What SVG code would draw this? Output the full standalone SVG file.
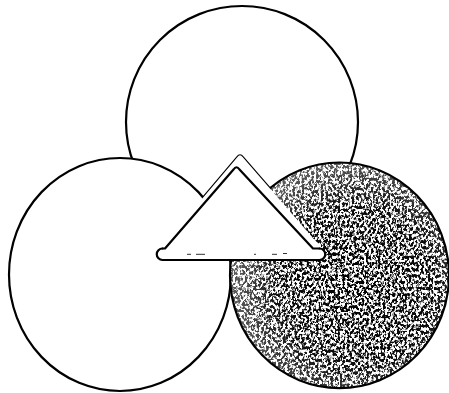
<svg xmlns="http://www.w3.org/2000/svg" width="449" height="393" viewBox="0 0 449 393">
  <style>
    .ring { fill: #ffffff; stroke: #000000; stroke-width: 2.2; }
    .edge { fill: none; stroke: #000000; stroke-width: 2.2; stroke-linejoin: round; stroke-linecap: round; }
    .halo { fill: #ffffff; stroke: none; }
    .speck { fill: none; stroke: #333333; stroke-width: 1; }
  </style>
  <defs>
    <radialGradient id="density" cx="0.58" cy="0.55" r="0.55">
      <stop offset="0" stop-color="#000" stop-opacity="1"/>
      <stop offset="0.65" stop-color="#000" stop-opacity="0.95"/>
      <stop offset="1" stop-color="#000" stop-opacity="0.65"/>
    </radialGradient>
    <filter id="grain" x="0" y="0" width="1" height="1" color-interpolation-filters="sRGB">
      <feTurbulence type="fractalNoise" baseFrequency="0.42 0.32" numOctaves="3" seed="11" result="noise"/>
      <feColorMatrix in="noise" type="matrix" values="0 0 0 0 0  0 0 0 0 0  0 0 0 0 0  7 0 0 0 -3.0" result="speck"/>
      <feComposite in="speck" in2="SourceGraphic" operator="in"/>
    </filter>
    <path id="outerShape" d="M 158.7,250 L 237.5,157 Q 240,153.5 242.6,157 L 323.4,250 A 5.75 5.75 0 0 1 319.5,260 L 162.5,260 A 5.75 5.75 0 0 1 158.7,250 Z"/>
  </defs>

  <rect width="449" height="393" fill="#ffffff"/>

  <g id="node-top">
    <circle class="ring" cx="242" cy="122" r="116"/>
  </g>

  <g id="triangle-outline">
    <use href="#outerShape" class="edge"/>
  </g>

  <g id="node-left">
    <ellipse class="ring" cx="120" cy="274.5" rx="111" ry="116.5"/>
  </g>

  <g id="node-right">
    <ellipse cx="339.5" cy="275.3" rx="109.5" ry="112.8" fill="#ffffff"/>
    <ellipse cx="339.5" cy="275.3" rx="109.5" ry="112.8" fill="url(#density)" filter="url(#grain)"/>
    <ellipse cx="339.5" cy="275.3" rx="109.5" ry="112.8" fill="none" stroke="#000" stroke-width="2.2"/>
  </g>

  <g id="node-triangle">
    <use href="#outerShape" class="halo"/>
    <path class="edge" d="M 162.5,248.5 L 165,248.5 L 233.5,169.5 Q 236.5,165 239.5,169.5 L 313,248.5 L 319.5,248.5"/>
    <path class="edge" d="M 162.5,248.5 A 5.75 5.75 0 0 0 162.5,260 L 319.5,260 A 5.75 5.75 0 0 0 319.5,248.5"/>
    <path class="speck" d="M 187,254.3 H 191 M 196,254.3 H 205 M 254,254.3 H 256 M 272,254.3 H 277 M 283,253.5 H 287"/>
  </g>

  <g id="connectors"/>
</svg>
